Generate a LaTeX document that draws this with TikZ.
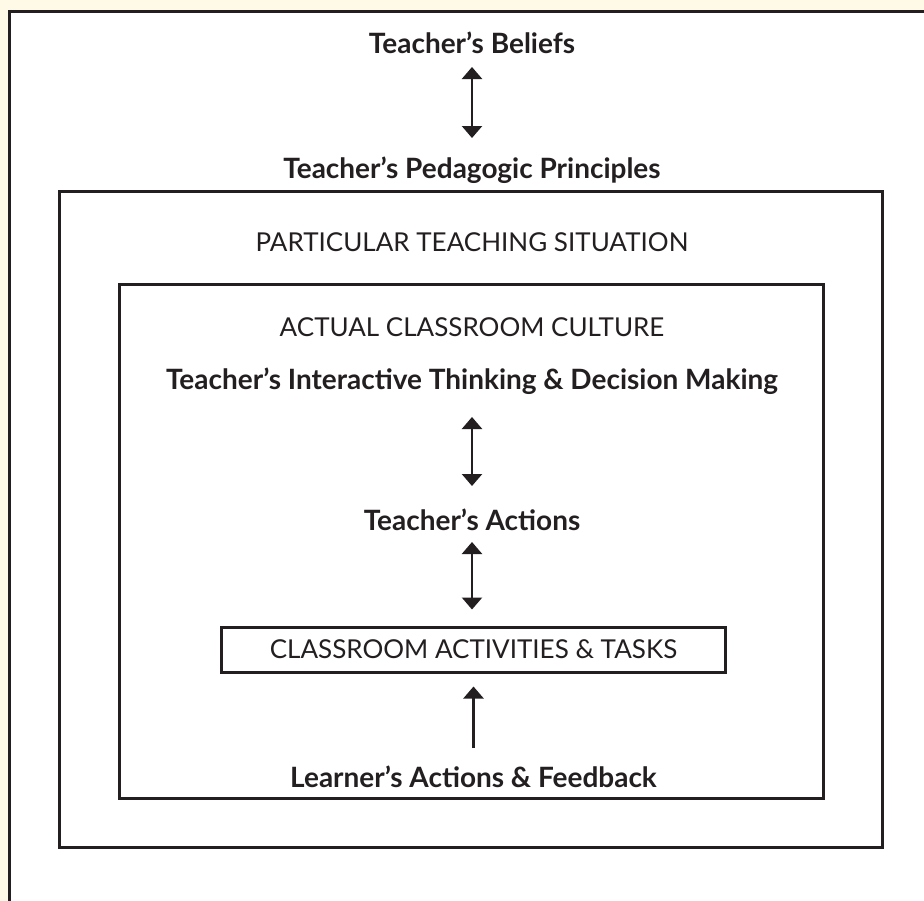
\documentclass[tikz,border=0pt]{standalone}
\usepackage{fontspec}
\setmainfont{Lato}
\usetikzlibrary{arrows.meta}

\definecolor{cream}{RGB}{255,250,231}
\definecolor{ink}{RGB}{35,31,32}

\tikzset{
  txt/.style={inner sep=0pt,text=ink,font=\fontsize{18.5}{22}\selectfont},
  head/.style={txt,font=\fontsize{19.9}{24}\selectfont\bfseries},
  frame/.style={draw=ink,line width=0.75mm},
  twoway/.style={ink,line width=0.6mm,{Triangle[width=5mm,length=3mm]}-{Triangle[width=5mm,length=3mm]}},
  oneway/.style={ink,line width=0.6mm,-{Triangle[width=5mm,length=3mm]}}
}

\begin{document}
\begin{tikzpicture}[x=0.25mm,y=-0.25mm]
\useasboundingbox (0,0) rectangle (924,901);
\clip (0,0) rectangle (924,901);
\fill[cream] (0,0) rectangle (924,901);
\filldraw[frame,fill=white] (9,11) rectangle (940,920);
% nested boxes
\draw[frame] (59,191) rectangle (882,847);
\draw[frame] (119,284) rectangle (823,798);
% labels
\node[head] (beliefs) at (472,43) {Teacher’s Beliefs};
\node[head] (principles) at (472,170) {Teacher’s Pedagogic Principles};
\node[txt] (situation) at (472,242) {PARTICULAR TEACHING SITUATION};
\node[txt] (culture) at (472,327) {ACTUAL CLASSROOM CULTURE};
\node[head] (thinking) at (472,381) {Teacher’s Interactive Thinking \& Decision Making};
\node[head] (actions) at (472,520) {Teacher’s Actions};
\node[txt,frame,minimum width=125.75mm,minimum height=11.25mm] (tasks) at (473.5,649.5) {CLASSROOM ACTIVITIES \& TASKS};
\node[head] (feedback) at (473.5,777) {Learner’s Actions \& Feedback};
% arrows
\draw[twoway,shorten <=6mm,shorten >=8mm] (beliefs.center) -- (principles.center);
\draw[twoway,shorten <=9mm,shorten >=8.5mm] (thinking.center) -- (actions.center);
\draw[twoway,shorten <=5.5mm,shorten >=4mm] (actions.center) -- (actions.center |- tasks.north);
\draw[oneway,shorten <=7.25mm,shorten >=3.25mm] (feedback.center) -- (tasks.south);
\end{tikzpicture}
\end{document}
